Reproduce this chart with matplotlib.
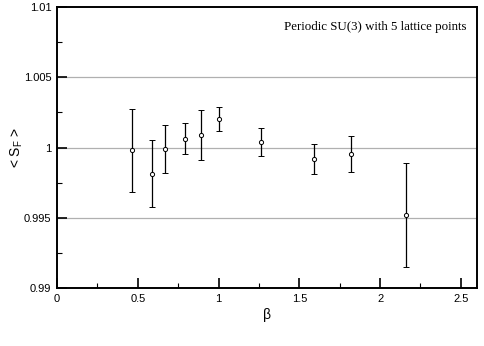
import matplotlib
matplotlib.use("Agg")
import matplotlib.pyplot as plt
from matplotlib.ticker import MultipleLocator

beta = [0.464, 0.586, 0.669, 0.795, 0.890, 1.003, 1.263, 1.591, 1.820, 2.159]
sf = [0.99980, 0.99813, 0.99991, 1.00062, 1.00090, 1.00204, 1.00036, 0.99918, 0.99953, 0.99521]
err = [0.00297, 0.00238, 0.00172, 0.00109, 0.00176, 0.00086, 0.00100, 0.00107, 0.00127, 0.00370]

plt.rcParams['font.family'] = ['Liberation Sans', 'DejaVu Sans']
plt.rcParams['mathtext.fontset'] = 'custom'
plt.rcParams['mathtext.rm'] = 'Liberation Sans'

fig = plt.figure(figsize=(4.85, 3.46), dpi=100)
ax = fig.add_axes([57/485, 58/346, 420/485, 281/346])

for y in [0.995, 1.0, 1.005]:
    ax.axhline(y, color='#b0b0b0', lw=0.9, zorder=0)

ax.errorbar(beta, sf, yerr=err, fmt='o', ms=3, mfc='white', mec='black', mew=0.7,
            ecolor='black', elinewidth=0.9, capsize=2, capthick=0.9, zorder=3)

ax.set_xlim(0, 2.6)
ax.set_ylim(0.99, 1.01)
ax.xaxis.set_minor_locator(MultipleLocator(0.25))
ax.yaxis.set_minor_locator(MultipleLocator(0.0025))
ax.set_xticks([0, 0.5, 1, 1.5, 2, 2.5])
ax.set_xticklabels(['0', '0.5', '1', '1.5', '2', '2.5'])
ax.set_yticks([0.99, 0.995, 1.0, 1.005, 1.01])
ax.set_yticklabels(['0.99', '0.995', '1', '1.005', '1.01'])
ax.tick_params(which='major', direction='in', length=7, width=1.2, labelsize=8, pad=4)
ax.tick_params(which='minor', direction='in', length=3.5, width=0.8)
for s in ax.spines.values():
    s.set_linewidth(1.4)

ax.set_xlabel('β', fontsize=10, labelpad=3)
ax.set_ylabel(r'< S$_\mathrm{F}$ >', fontsize=10)
ax.yaxis.set_label_coords(-0.076, 0.5)
ax.text(0.975, 0.929, 'Periodic SU(3) with 5 lattice points', transform=ax.transAxes,
        ha='right', va='center', fontsize=9.3, family='Liberation Serif')

fig.savefig('out.png', dpi=100)
